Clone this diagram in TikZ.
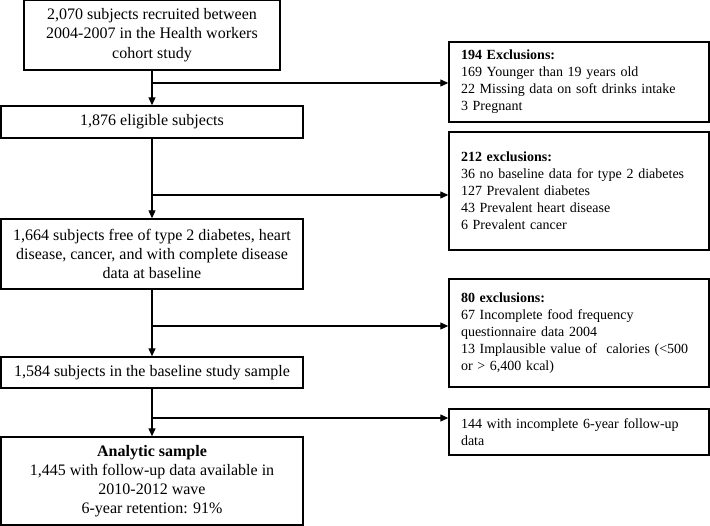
\documentclass[tikz,border=0pt]{standalone}
\usepackage{fontspec}
\setmainfont{Liberation Serif}
\usetikzlibrary{arrows.meta}
\begin{document}
\begin{tikzpicture}[x=1pt,y=-1pt,
  box/.style={draw, line width=1.4pt, inner sep=0pt, align=center, font=\fontsize{16}{19.2}\selectfont},
  exbox/.style={draw, line width=1.4pt, minimum width=258pt, inner xsep=12pt, inner ysep=0pt, text width=236pt, align=left, font=\fontsize{14}{17}\selectfont},
  arr/.style={line width=1.2pt, -{Triangle[length=8pt,width=7pt]}},
  ln/.style={line width=1.2pt}]
\useasboundingbox (0,0) rectangle (710,526);
\node[box, minimum width=256pt, minimum height=70pt] (n1) at (152,35) {2,070 subjects recruited between\\2004-2007 in the Health workers\\cohort study};
\node[box, minimum width=302pt, minimum height=32pt] (n2) at (152,122) {1,876 eligible subjects};
\node[box, minimum width=302pt, minimum height=70pt] (n3) at (152,254) {1,664 subjects free of type 2 diabetes, heart\\disease, cancer, and with complete disease\\data at baseline};
\node[box, minimum width=302pt, minimum height=31pt] (n4) at (152,372.5) {1,584 subjects in the baseline study sample};
\node[box, minimum width=302pt, minimum height=88pt] (n5) at (152,481) {\textbf{Analytic sample}\\1,445 with follow-up data available in\\2010-2012 wave\\6-year retention: 91\%};
\node[exbox, minimum height=80pt] (e1) at (579,82) {\textbf{194 Exclusions:}\\169 Younger than 19 years old\\22 Missing data on soft drinks intake\\3 Pregnant};
\node[exbox, minimum height=118pt] (e2) at (579,191) {\textbf{212 exclusions:}\\36 no baseline data for type 2 diabetes\\127 Prevalent diabetes\\43 Prevalent heart disease\\6 Prevalent cancer};
\node[exbox, minimum height=108pt] (e3) at (579,333) {\textbf{80 exclusions:}\\67 Incomplete food frequency\\questionnaire data 2004\\13 Implausible value of \ calories (<500\\or > 6,400 kcal)};
\node[exbox, minimum height=46pt] (e4) at (579,432) {144 with incomplete 6-year follow-up\\data};
\coordinate (b1) at (152,83);
\coordinate (b2) at (152,195);
\coordinate (b3) at (152,326);
\coordinate (b4) at (152,418);
\draw[arr] (n1.south) -- (n2.north);
\draw[arr] (n2.south) -- (n3.north);
\draw[arr] (n3.south) -- (n4.north);
\draw[arr] (n4.south) -- (n5.north);
\draw[arr] (b1) -- (b1 -| e1.west);
\draw[arr] (b2) -- (b2 -| e2.west);
\draw[arr] (b3) -- (b3 -| e3.west);
\draw[arr] (b4) -- (b4 -| e4.west);
\end{tikzpicture}
\end{document}
